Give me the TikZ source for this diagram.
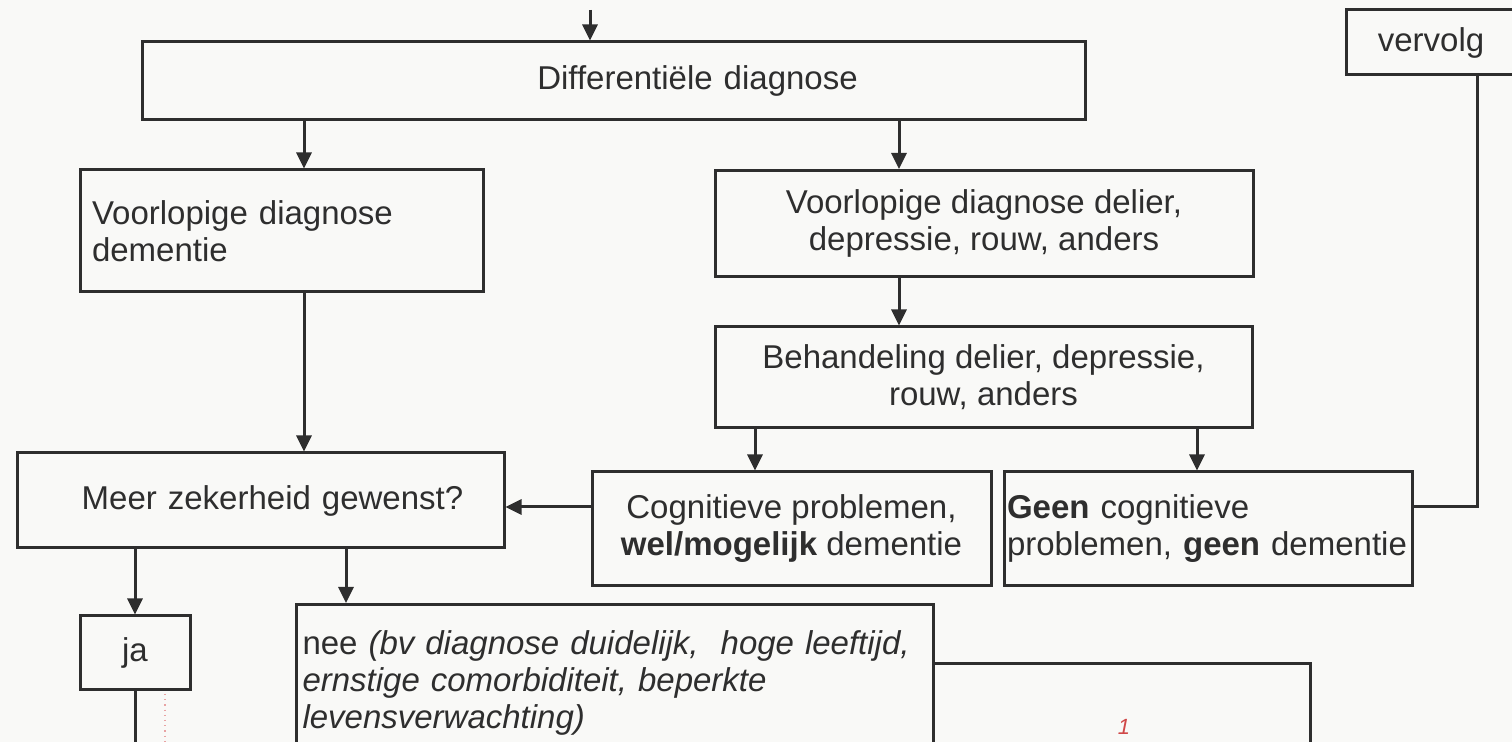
\documentclass[tikz,border=0pt]{standalone}
\usepackage{fontspec}
\setmainfont{Liberation Sans}
\usetikzlibrary{shapes,arrows.meta,calc}
\definecolor{ink}{HTML}{2E2E2E}
\definecolor{paper}{HTML}{F9F9F7}
\definecolor{pen}{HTML}{D04848}

\begin{document}
\begin{tikzpicture}
[
x=0.5pt, y=-0.5pt, thick, >={Triangle[length=8pt,width=7.5pt]},
block/.style    = {draw=ink, line width=1.5pt, rectangle, inner sep=0pt, text=ink, font=\fontsize{16.5}{18.5}\selectfont},
link/.style     = {draw=ink, line width=1.5pt},
]
\fill[paper] (0,0) rectangle (1512,742);
\useasboundingbox (0,0) rectangle (1512,742);

\node at (613.5,81)[block, minimum width=471.5pt, minimum height=39pt, text width=460pt, align=center] (diff) {\hspace*{84pt}Differentiële diagnose};
\node at (1431,42.5)[block, minimum width=85pt, minimum height=32.5pt] (verv) {vervolg};
\node at (281.5,231)[block, minimum width=201.5pt, minimum height=61pt, text width=189.5pt, align=left] (dem) {Voorlopige diagnose\\dementie};
\node at (984,223.5)[block, minimum width=269pt, minimum height=53pt, align=center] (del) {Voorlopige diagnose delier,\\depressie, rouw, anders};
\node at (983.5,377.5)[block, minimum width=268.5pt, minimum height=50.5pt, align=center] (beh) {Behandeling delier, depressie,\\rouw, anders};
\node at (791.5,529)[block, minimum width=199.5pt, minimum height=57pt, align=center] (cog) {Cognitieve problemen,\\\textbf{wel/mogelijk} dementie};
\node at (1208,529)[block, minimum width=204pt, minimum height=57pt, text width=201pt, align=left] (geen) {\textbf{Geen} cognitieve\\problemen, \textbf{geen} dementie};
\node at (260.5,500.5)[block, minimum width=243.5pt, minimum height=47.5pt, text width=235pt, align=center] (meer) {\hspace*{12pt}Meer zekerheid gewenst?};
\node at (135,653)[block, minimum width=55pt, minimum height=37pt] (ja) {ja};
\node at (880,662)[block, anchor=north west, minimum width=214.5pt, minimum height=70pt] (rest) {};
\node at (614.5,603)[block, anchor=north, fill=paper, inner xsep=3.25pt, inner ysep=13pt, text width=312pt, align=left] (nee)
  {nee \textit{(bv diagnose duidelijk,\ \ hoge leeftijd,}\\\textit{ernstige comorbiditeit, beperkte}\\\textit{levensverwachting)}};
\node at (1124,727)[text=pen, inner sep=1pt, font=\itshape\fontsize{11}{11}\selectfont] (note) {1};

\coordinate (top) at (590,10);
\coordinate (bend) at (1477,507);
\coordinate (jaend) at (135,760);

\draw[link,->] (top) -- (top |- diff.north);
\draw[link,->] (diff.south -| 304,0) -- (dem.north -| 304,0);
\draw[link,->] (diff.south -| 899,0) -- (del.north -| 899,0);
\draw[link,->] (del.south -| 899,0) -- (beh.north -| 899,0);
\draw[link,->] (beh.south -| 755,0) -- (cog.north -| 755,0);
\draw[link,->] (beh.south -| 1197,0) -- (geen.north -| 1197,0);
\draw[link,->] (dem.south -| 304,0) -- (meer.north -| 304,0);
\draw[link,->] (cog.west |- bend) -- (meer.east |- bend);
\draw[link,->] (meer.south -| ja.north) -- (ja.north);
\draw[link,->] (meer.south -| 346,0) -- (nee.north -| 346,0);
\draw[link] (ja.south) -- (jaend);
\draw[link] (geen.east |- bend) -- (bend) -- (bend |- verv.south);

% faint red pencil line
\draw[pen!50, dotted, line width=0.6pt] (165,694) -- (165,742);
\end{tikzpicture}
\end{document}
